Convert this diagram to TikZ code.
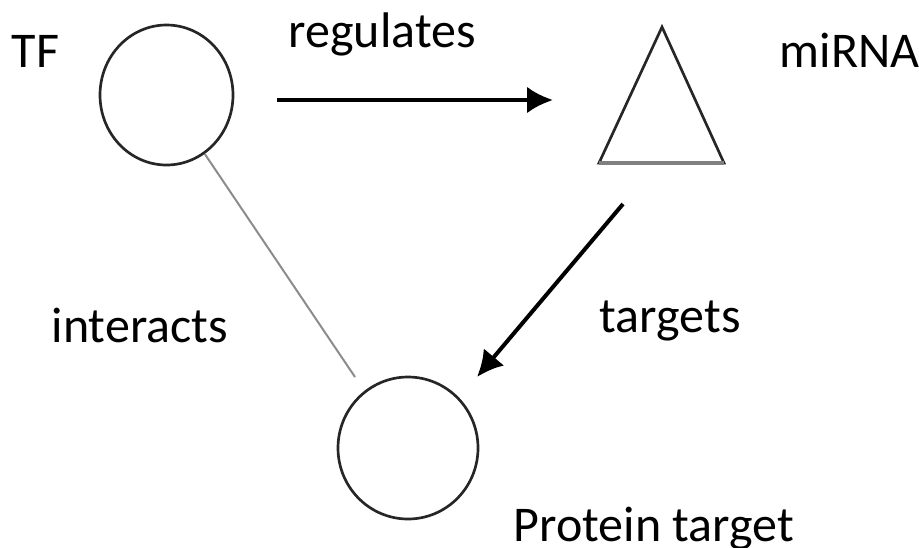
\documentclass[tikz,border=0pt]{standalone}
\usepackage{fontspec}
\setmainfont{Carlito}
\usetikzlibrary{arrows.meta,shapes.geometric}

\begin{document}
\begin{tikzpicture}
	[x=0.3pt,y=-0.3pt,
	place/.style={ellipse,draw=black!85,line width=0.8pt,
		inner sep=0pt,minimum width=39.9pt,minimum height=42pt},
	place1/.style={ellipse,draw=black!85,line width=0.8pt,
		inner sep=0pt,minimum width=42pt,minimum height=42.6pt},
	tri/.style={draw=black!85,line width=0.8pt,line join=miter},
	flecha/.style={draw=black,line width=1.2pt,-{Latex[length=7.8pt,width=8pt]}},
	enlace/.style={draw=black!45,line width=0.6pt},
	etiq/.style={anchor=base west,inner sep=0pt,font=\fontsize{15}{18}\selectfont}]
	\useasboundingbox (0,0) rectangle (919,547);
	%nodos
	\node (tf) at (166.5,95) [place] {};
	\node (prot) at (408,448) [place1] {};
	\coordinate (top) at (662,27);
	\coordinate (bl) at (599,163);
	\coordinate (br) at (724,163);
	\draw[tri] (top) -- (br) -- (bl) -- cycle;
	\draw[draw=black!50,line width=1.4pt] (bl) -- (br);
	%conexiones
	\coordinate (r1) at (277,100);
	\coordinate (r2) at (553,100);
	\coordinate (t1) at (623,204);
	\coordinate (t2) at (477,377);
	\coordinate (i2) at (355,377);
	\draw[flecha] (r1) -- (r2);
	\draw[flecha] (t1) -- (t2);
	\draw[enlace] (tf.-57) -- (i2);
	%textos
	\node (ltf) at (11,67) [etiq] {TF};
	\node (lreg) at (288,47) [etiq] {regulates};
	\node (lmir) at (779,67) [etiq] {miRNA};
	\node (lint) at (51,342) [etiq] {interacts};
	\node (ltar) at (599,332) [etiq] {targets};
	\node (lpro) at (513,541) [etiq] {Protein target};
\end{tikzpicture}
\end{document}
